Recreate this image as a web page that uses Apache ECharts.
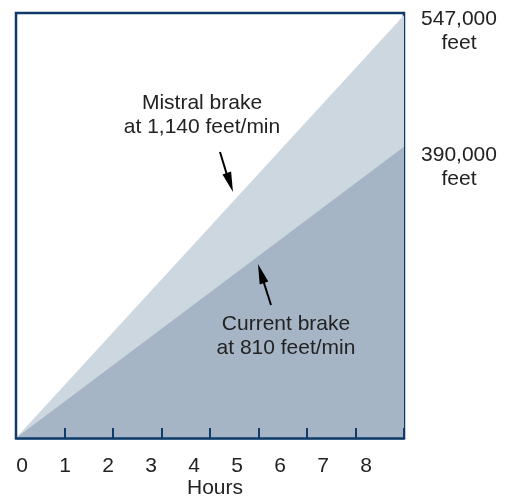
<!DOCTYPE html>
<html>
<head>
<meta charset="utf-8">
<script src="https://cdn.jsdelivr.net/npm/echarts@6/dist/echarts.min.js"></script>
<style>html,body{margin:0;padding:0;background:#fff}#c{width:515px;height:497px}</style>
</head>
<body>
<div id="c"></div>
<script>
var hours = [0, 8];
var mistralFeet = [0, 547000];
var currentFeet = [0, 377000];
var hourTicks = [0, 1, 2, 3, 4, 5, 6, 7, 8];
var endLabels = ['547,000\nfeet', '390,000\nfeet'];
var notes = ['Mistral brake\nat 1,140 feet/min', 'Current brake\nat 810 feet/min'];

var navy = '#0e3b69';
var txt = '#222222';
var font = 'Liberation Sans';
var f21 = '21px "Liberation Sans"';

function pairs(xs, ys) { return xs.map(function (x, i) { return [x, ys[i]]; }); }

var chart = echarts.init(document.getElementById('c'), null, { renderer: 'canvas' });
chart.setOption({
  animation: false,
  textStyle: { fontFamily: font },
  grid: [
    { left: 16, top: 13, right: 111, bottom: 59, show: true, borderColor: navy, borderWidth: 2.5, backgroundColor: '#fff', outerBoundsMode: 'none', containLabel: false },
    { left: 22, top: 13, right: 149, bottom: 59, outerBoundsMode: 'none', containLabel: false }
  ],
  xAxis: [
    { type: 'value', gridIndex: 0, min: hourTicks[0], max: hourTicks[hourTicks.length - 1], interval: 1, z: 10,
      axisLine: { show: true, lineStyle: { color: navy, width: 2.5 } },
      axisTick: { show: true, inside: true, length: 10, lineStyle: { color: navy, width: 2 } },
      axisLabel: { show: false }, splitLine: { show: false },
      name: 'Hours', nameLocation: 'middle', nameGap: 40,
      nameTextStyle: { fontSize: 21, color: txt, fontFamily: font, padding: [0, 0, 0, 10] } },
    { type: 'value', gridIndex: 1, min: hourTicks[0], max: hourTicks[hourTicks.length - 1], interval: 1,
      axisLine: { show: false }, axisTick: { show: false }, splitLine: { show: false },
      axisLabel: { show: true, margin: 18, fontSize: 21, color: txt, fontFamily: font } }
  ],
  yAxis: [
    { type: 'value', gridIndex: 0, min: 0, max: 550000, show: false },
    { type: 'value', gridIndex: 1, min: 0, max: 550000, show: false }
  ],
  series: [
    { type: 'line', xAxisIndex: 0, yAxisIndex: 0, data: pairs(hours, mistralFeet), symbol: 'none',
      lineStyle: { width: 0 }, areaStyle: { color: '#cdd7e0', opacity: 1 }, z: 1 },
    { type: 'line', xAxisIndex: 0, yAxisIndex: 0, data: pairs(hours, currentFeet), symbol: 'none',
      lineStyle: { width: 0 }, areaStyle: { color: '#a6b5c6', opacity: 1 }, z: 2 }
  ],
  graphic: [
    { type: 'text', x: 459, y: 7, z: 10, style: { text: endLabels[0], fill: txt, font: f21, textAlign: 'center', lineHeight: 24 } },
    { type: 'text', x: 459, y: 143, z: 10, style: { text: endLabels[1], fill: txt, font: f21, textAlign: 'center', lineHeight: 24 } },
    { type: 'text', x: 202, y: 91, z: 10, style: { text: notes[0], fill: txt, font: f21, textAlign: 'center', lineHeight: 24 } },
    { type: 'text', x: 286, y: 312, z: 10, style: { text: notes[1], fill: txt, font: f21, textAlign: 'center', lineHeight: 24 } },
    { type: 'line', z: 10, shape: { x1: 220, y1: 152, x2: 227, y2: 175 }, style: { stroke: '#000', lineWidth: 2 } },
    { type: 'polygon', z: 10, shape: { points: [[233, 192], [222.5, 174.4], [231.1, 171.6]] }, style: { fill: '#000' } },
    { type: 'line', z: 10, shape: { x1: 271, y1: 305, x2: 263.5, y2: 281.5 }, style: { stroke: '#000', lineWidth: 2 } },
    { type: 'polygon', z: 10, shape: { points: [[258, 264], [268.3, 281.6], [259.7, 284.4]] }, style: { fill: '#000' } }
  ]
});
</script>
</body>
</html>
